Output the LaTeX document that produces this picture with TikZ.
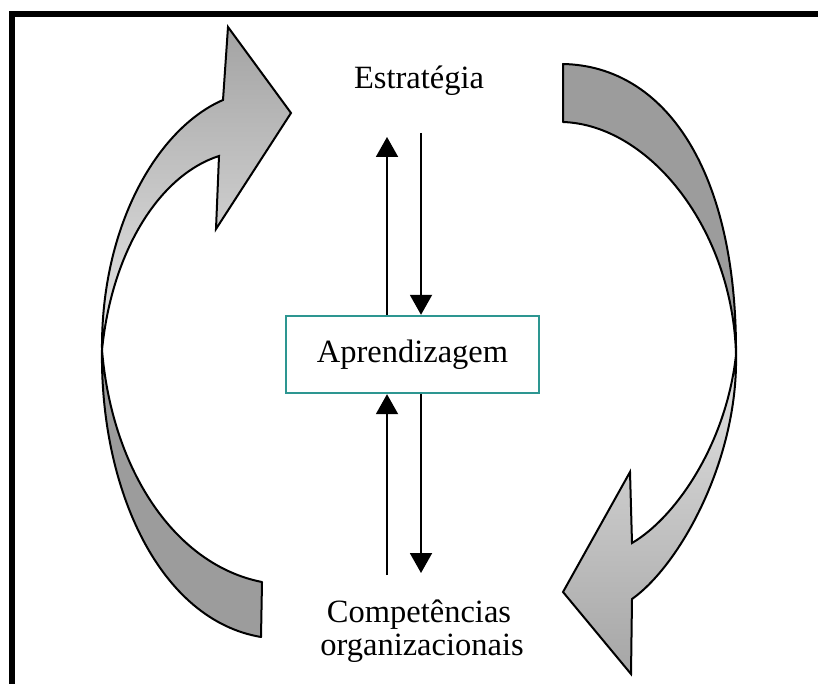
\documentclass[tikz,border=0pt]{standalone}
\usepackage{fontspec}
\setmainfont{Liberation Serif}
\usetikzlibrary{arrows.meta}
\definecolor{boxteal}{RGB}{45,150,145}
\begin{document}
\begin{tikzpicture}[x=1pt,y=-1pt,
  txt/.style={font=\fontsize{32.5}{36}\selectfont, inner sep=0pt},
  flow/.style={line width=2pt, -{Triangle[width=22pt,length=20pt]}},
  backband/.style={draw=black, line width=2pt, line join=round, fill=gray!78},
  frontband/.style={draw=black, line width=2pt, line join=miter}
]
\useasboundingbox (0,0) rectangle (818,684);

% frame edges
\fill[black] (9,11) rectangle (818,17);
\fill[black] (9,11) rectangle (15,684);

% left cycle arrow: back band, then front band with head
\path[backband] (102,350) .. controls (100,490) and (160,620) .. (261,637)
  -- (262,582) .. controls (175,565) and (112,470) .. (102,350) -- cycle;
\path[frontband, top color=gray!72, bottom color=gray!18]
  (102,350) .. controls (101,225) and (158,128) .. (223,100)
  -- (228,27) -- (291,113) -- (216,229) -- (219,156)
  .. controls (160,175) and (112,250) .. (102,350) -- cycle;

% right cycle arrow: back band, then front band with head
\path[backband] (736,355) .. controls (737,170) and (665,66) .. (563,64)
  -- (563,122) .. controls (650,125) and (733,230) .. (736,355) -- cycle;
\path[frontband, top color=gray!22, bottom color=gray!70]
  (736,355) .. controls (738,460) and (680,565) .. (632,599)
  -- (631,674) -- (563,592) -- (630,472) -- (632,543)
  .. controls (675,518) and (726,445) .. (736,355) -- cycle;

% labels
\node[txt, anchor=base] (estr) at (419,89) {Estratégia};
\node[txt, draw=boxteal, line width=2.4pt, minimum width=253pt, minimum height=77pt]
  (apr) at (412.5,354.5) {Aprendizagem};
\node[txt, anchor=base] (comp) at (419,622) {Competências};
\node[txt, anchor=base] (compb) at (422,655) {organizacionais};

% connector end points
\coordinate (upA) at (387,137);
\coordinate (downA) at (421,133);
\coordinate (upB) at (387,575);
\coordinate (downB) at (421,573);

% arrows between the labels and the box
\draw[flow] (apr.north -| upA) -- (upA);
\draw[flow] (downA) -- (apr.north -| downA);
\draw[flow] (upB) -- (apr.south -| upB);
\draw[flow] (apr.south -| downB) -- (downB);
\end{tikzpicture}
\end{document}
